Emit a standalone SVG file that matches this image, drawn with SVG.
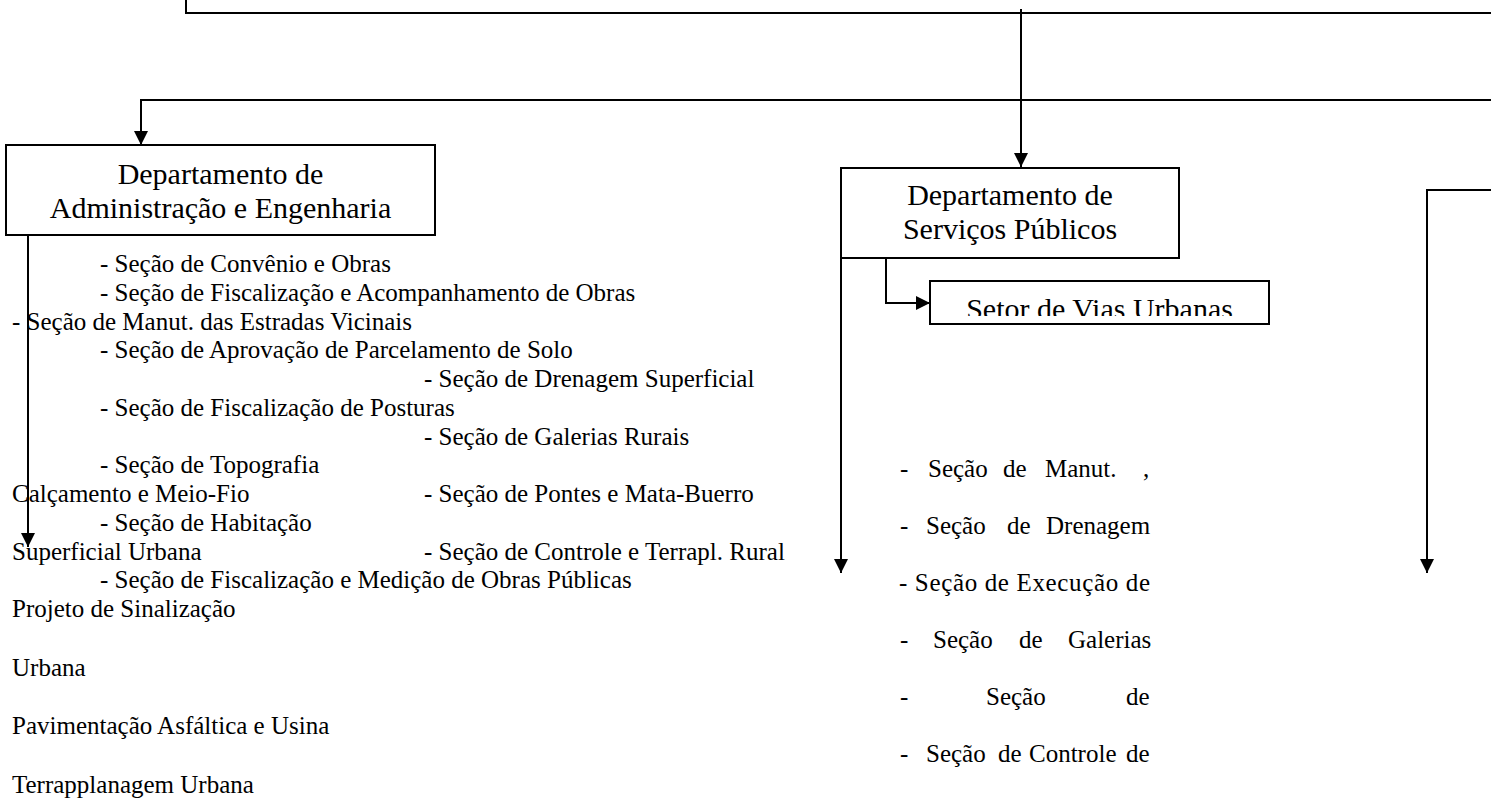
<svg xmlns="http://www.w3.org/2000/svg" width="1491" height="798" viewBox="0 0 1491 798">
  <defs>
    <marker id="arr" markerUnits="userSpaceOnUse" markerWidth="14" markerHeight="14" refX="14" refY="7" orient="auto">
      <path d="M0,0 L14,7 L0,14 Z" fill="#000"/>
    </marker>
    <clipPath id="clipSetor">
      <rect x="931" y="281" width="337" height="35"/>
    </clipPath>
  </defs>
  <style>
    .box { fill: #fff; stroke: #000; stroke-width: 2; }
    .con { fill: none; stroke: #000; stroke-width: 2; }
    .arrow { marker-end: url(#arr); }
    .title { font-family: "Liberation Serif", "Times New Roman", serif; font-size: 30px; fill: #000; text-anchor: middle; }
    .item { font-family: "Liberation Serif", "Times New Roman", serif; font-size: 25px; fill: #000; }
  </style>
  <rect width="1491" height="798" fill="#fff"/>

  <g id="connectors">
    <path class="con" d="M186,0 V13 H1491"/>
    <path class="con arrow" d="M1021,9 V167"/>
    <path class="con arrow" d="M1491,100 H141 V145"/>
    <path class="con arrow" d="M28,235 V547"/>
    <path class="con arrow" d="M841,258 V573"/>
    <path class="con arrow" d="M886,258 V303 H930"/>
    <path class="con arrow" d="M1491,190 H1427 V573"/>
  </g>

  <g id="node-dae">
    <rect class="box" x="6" y="145" width="429" height="90"/>
    <text class="title" x="220.5" y="184">Departamento de</text>
    <text class="title" x="220.5" y="218">Administração e Engenharia</text>
  </g>

  <g id="node-dsp">
    <rect class="box" x="841" y="168" width="338" height="90"/>
    <text class="title" x="1010" y="205">Departamento de</text>
    <text class="title" x="1010" y="239">Serviços Públicos</text>
  </g>

  <g id="node-setor">
    <rect class="box" x="930" y="281" width="339" height="43"/>
    <text class="title" x="1099.5" y="319" clip-path="url(#clipSetor)">Setor de Vias Urbanas</text>
  </g>

  <g id="list-dae" class="item">
    <text x="100" y="272">- Seção de Convênio e Obras</text>
    <text x="100" y="301">- Seção de Fiscalização e Acompanhamento de Obras</text>
    <text x="12" y="329.5">- Seção de Manut. das Estradas Vicinais</text>
    <text x="100" y="358">- Seção de Aprovação de Parcelamento de Solo</text>
    <text x="424" y="387">- Seção de Drenagem Superficial</text>
    <text x="100" y="416">- Seção de Fiscalização de Posturas</text>
    <text x="424" y="444.5">- Seção de Galerias Rurais</text>
    <text x="100" y="473">- Seção de Topografia</text>
    <text x="12" y="502">Calçamento e Meio-Fio</text>
    <text x="424" y="502">- Seção de Pontes e Mata-Buerro</text>
    <text x="100" y="531">- Seção de Habitação</text>
    <text x="12" y="559.5">Superficial Urbana</text>
    <text x="424" y="559.5">- Seção de Controle e Terrapl. Rural</text>
    <text x="100" y="588">- Seção de Fiscalização e Medição de Obras Públicas</text>
    <text x="12" y="617">Projeto de Sinalização</text>
    <text x="12" y="675.5">Urbana</text>
    <text x="12" y="734">Pavimentação Asfáltica e Usina</text>
    <text x="12" y="792.5">Terrapplanagem Urbana</text>
  </g>

  <g id="list-dsp" class="item">
    <text y="477"><tspan x="900">-</tspan><tspan x="928">Seção</tspan><tspan x="1003">de</tspan><tspan x="1045">Manut.</tspan><tspan x="1143">,</tspan></text>
    <text y="534"><tspan x="900">-</tspan><tspan x="926">Seção</tspan><tspan x="1007">de</tspan><tspan x="1046">Drenagem</tspan></text>
    <text y="591" textLength="251" lengthAdjust="spacing" x="899">- Seção de Execução de</text>
    <text y="648"><tspan x="900">-</tspan><tspan x="933">Seção</tspan><tspan x="1019">de</tspan><tspan x="1068">Galerias</tspan></text>
    <text y="705"><tspan x="900">-</tspan><tspan x="986">Seção</tspan><tspan x="1126">de</tspan></text>
    <text y="762"><tspan x="900">-</tspan><tspan x="926">Seção</tspan><tspan x="998">de</tspan><tspan x="1029">Controle</tspan><tspan x="1126">de</tspan></text>
  </g>
</svg>
